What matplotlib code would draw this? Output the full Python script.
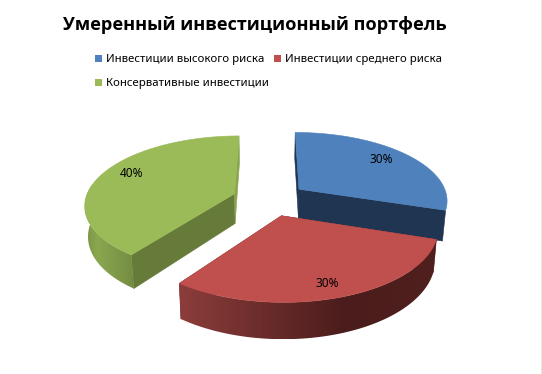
import numpy as np
import matplotlib
matplotlib.use("Agg")
import matplotlib.pyplot as plt
from matplotlib.patches import Rectangle, Polygon

title = "Умеренный инвестиционный портфель"
categories = ["Инвестиции высокого риска", "Инвестиции среднего риска", "Консервативные инвестиции"]
shares = [30, 30, 40]

top_colors = ["#4F81BD", "#C0504D", "#9BBB59"]
start_face = ["#1F3552", "#6E2E2C", "#667A3A"]
end_face = ["#1F3552", "#6E2E2C", "#8AA550"]
# wall shading along the rim: screen x fraction, colour per slice
wall_stops = [
    ([0, 1], ["#1F3552", "#1F3552"]),
    ([0.0, 0.65, 1.0], ["#8C3D3B", "#4A1C1B", "#4F201E"]),
    ([0.0, 0.25, 1.0], ["#7B9444", "#8BA750", "#738B41"]),
]
label_nudge = [(-4.5, -1), (0.5, 5), (3.5, -4)]

# projection of the tilted pie, in pixels
cx, cy = 269.5, 199
rx, ry = 149, 68
persp = 0.15
explode = 0.25
depth = 30
shrink = 0.982


def project(X, Y):
    s = 1 / (1 + persp * Y)
    return cx + rx * X * s, cy - ry * Y * s, s


def lower(x, y, s):
    return cx + (x - cx) * shrink, y + depth * s


fig = plt.figure(figsize=(5.42, 3.74), dpi=100)
ax = fig.add_axes([0, 0, 1, 1])

# slices go clockwise from 12 o'clock
edges = 90 - 3.6 * np.concatenate([[0], np.cumsum(shares)])

labels = []
for i in [0, 2, 1]:
    a0, a1 = np.radians(edges[i]), np.radians(edges[i + 1])
    mid = (a0 + a1) / 2
    ox, oy = explode * np.cos(mid), explode * np.sin(mid)
    th = np.linspace(a0, a1, 90)
    x, y, s = project(ox + np.cos(th), oy + np.sin(th))
    xb, yb = lower(x, y, s)
    ax0, ay0, as0 = project(ox, oy)
    axb, ayb = lower(ax0, ay0, as0)

    # flat faces from the centre to both ends of the rim
    ax.fill([ax0, x[0], xb[0], axb], [ay0, y[0], yb[0], ayb],
            color=start_face[i], lw=0.4, zorder=2 + i)
    ax.fill([ax0, x[-1], xb[-1], axb], [ay0, y[-1], yb[-1], ayb],
            color=end_face[i], lw=0.4, zorder=2 + i)

    # rim wall, only the part turned to the viewer
    if i > 0:
        stops, cols = wall_stops[i]
        rgb = np.array([matplotlib.colors.to_rgb(c) for c in cols])
        front = np.where(np.sin(th) < 0.15)[0]
        fx = np.linspace(0, 1, 256)
        grad = np.stack([np.interp(fx, stops, rgb[:, k]) for k in range(3)], axis=1)[None, :, :]
        xs = np.r_[x[front], xb[front][::-1]]
        ys = np.r_[y[front], yb[front][::-1]]
        im = ax.imshow(grad, extent=[xs.min(), xs.max(), ys.max(), ys.min()],
                       aspect="auto", zorder=2 + i)
        wall = Polygon(np.c_[xs, ys], transform=ax.transData)
        im.set_clip_path(wall)

    ax.fill(np.r_[ax0, x], np.r_[ay0, y], color=top_colors[i], lw=0.4, zorder=2 + i)

    lx, ly, _ = project(ox + 0.8 * np.cos(mid), oy + 0.8 * np.sin(mid))
    labels.append((lx + label_nudge[i][0], ly + label_nudge[i][1], f"{shares[i]}%"))

ax.set_xlim(0, 542)
ax.set_ylim(374, 0)
ax.axis("off")

for lx, ly, txt in labels:
    ax.text(lx, ly, txt, ha="center", va="center", fontsize=8.5,
            family="Noto Sans", color="black", zorder=10)

ax.text(254.5, 25, title, ha="center", va="center", fontsize=13.05,
        fontweight="bold", family="Open Sans", color="black")

# legend
legend_pos = [(95, 59), (274, 59), (95, 83)]
for (lx, ly), name, col in zip(legend_pos, categories, top_colors):
    ax.add_patch(Rectangle((lx, ly - 4), 7, 7, color=col, lw=0))
    ax.text(lx + 11, ly, name, ha="left", va="center", fontsize=8.2,
            family="Noto Sans", color="black")

ax.plot([541.5, 541.5], [0, 374], color="#808080", lw=1)

fig.savefig("out.png", dpi=100)
